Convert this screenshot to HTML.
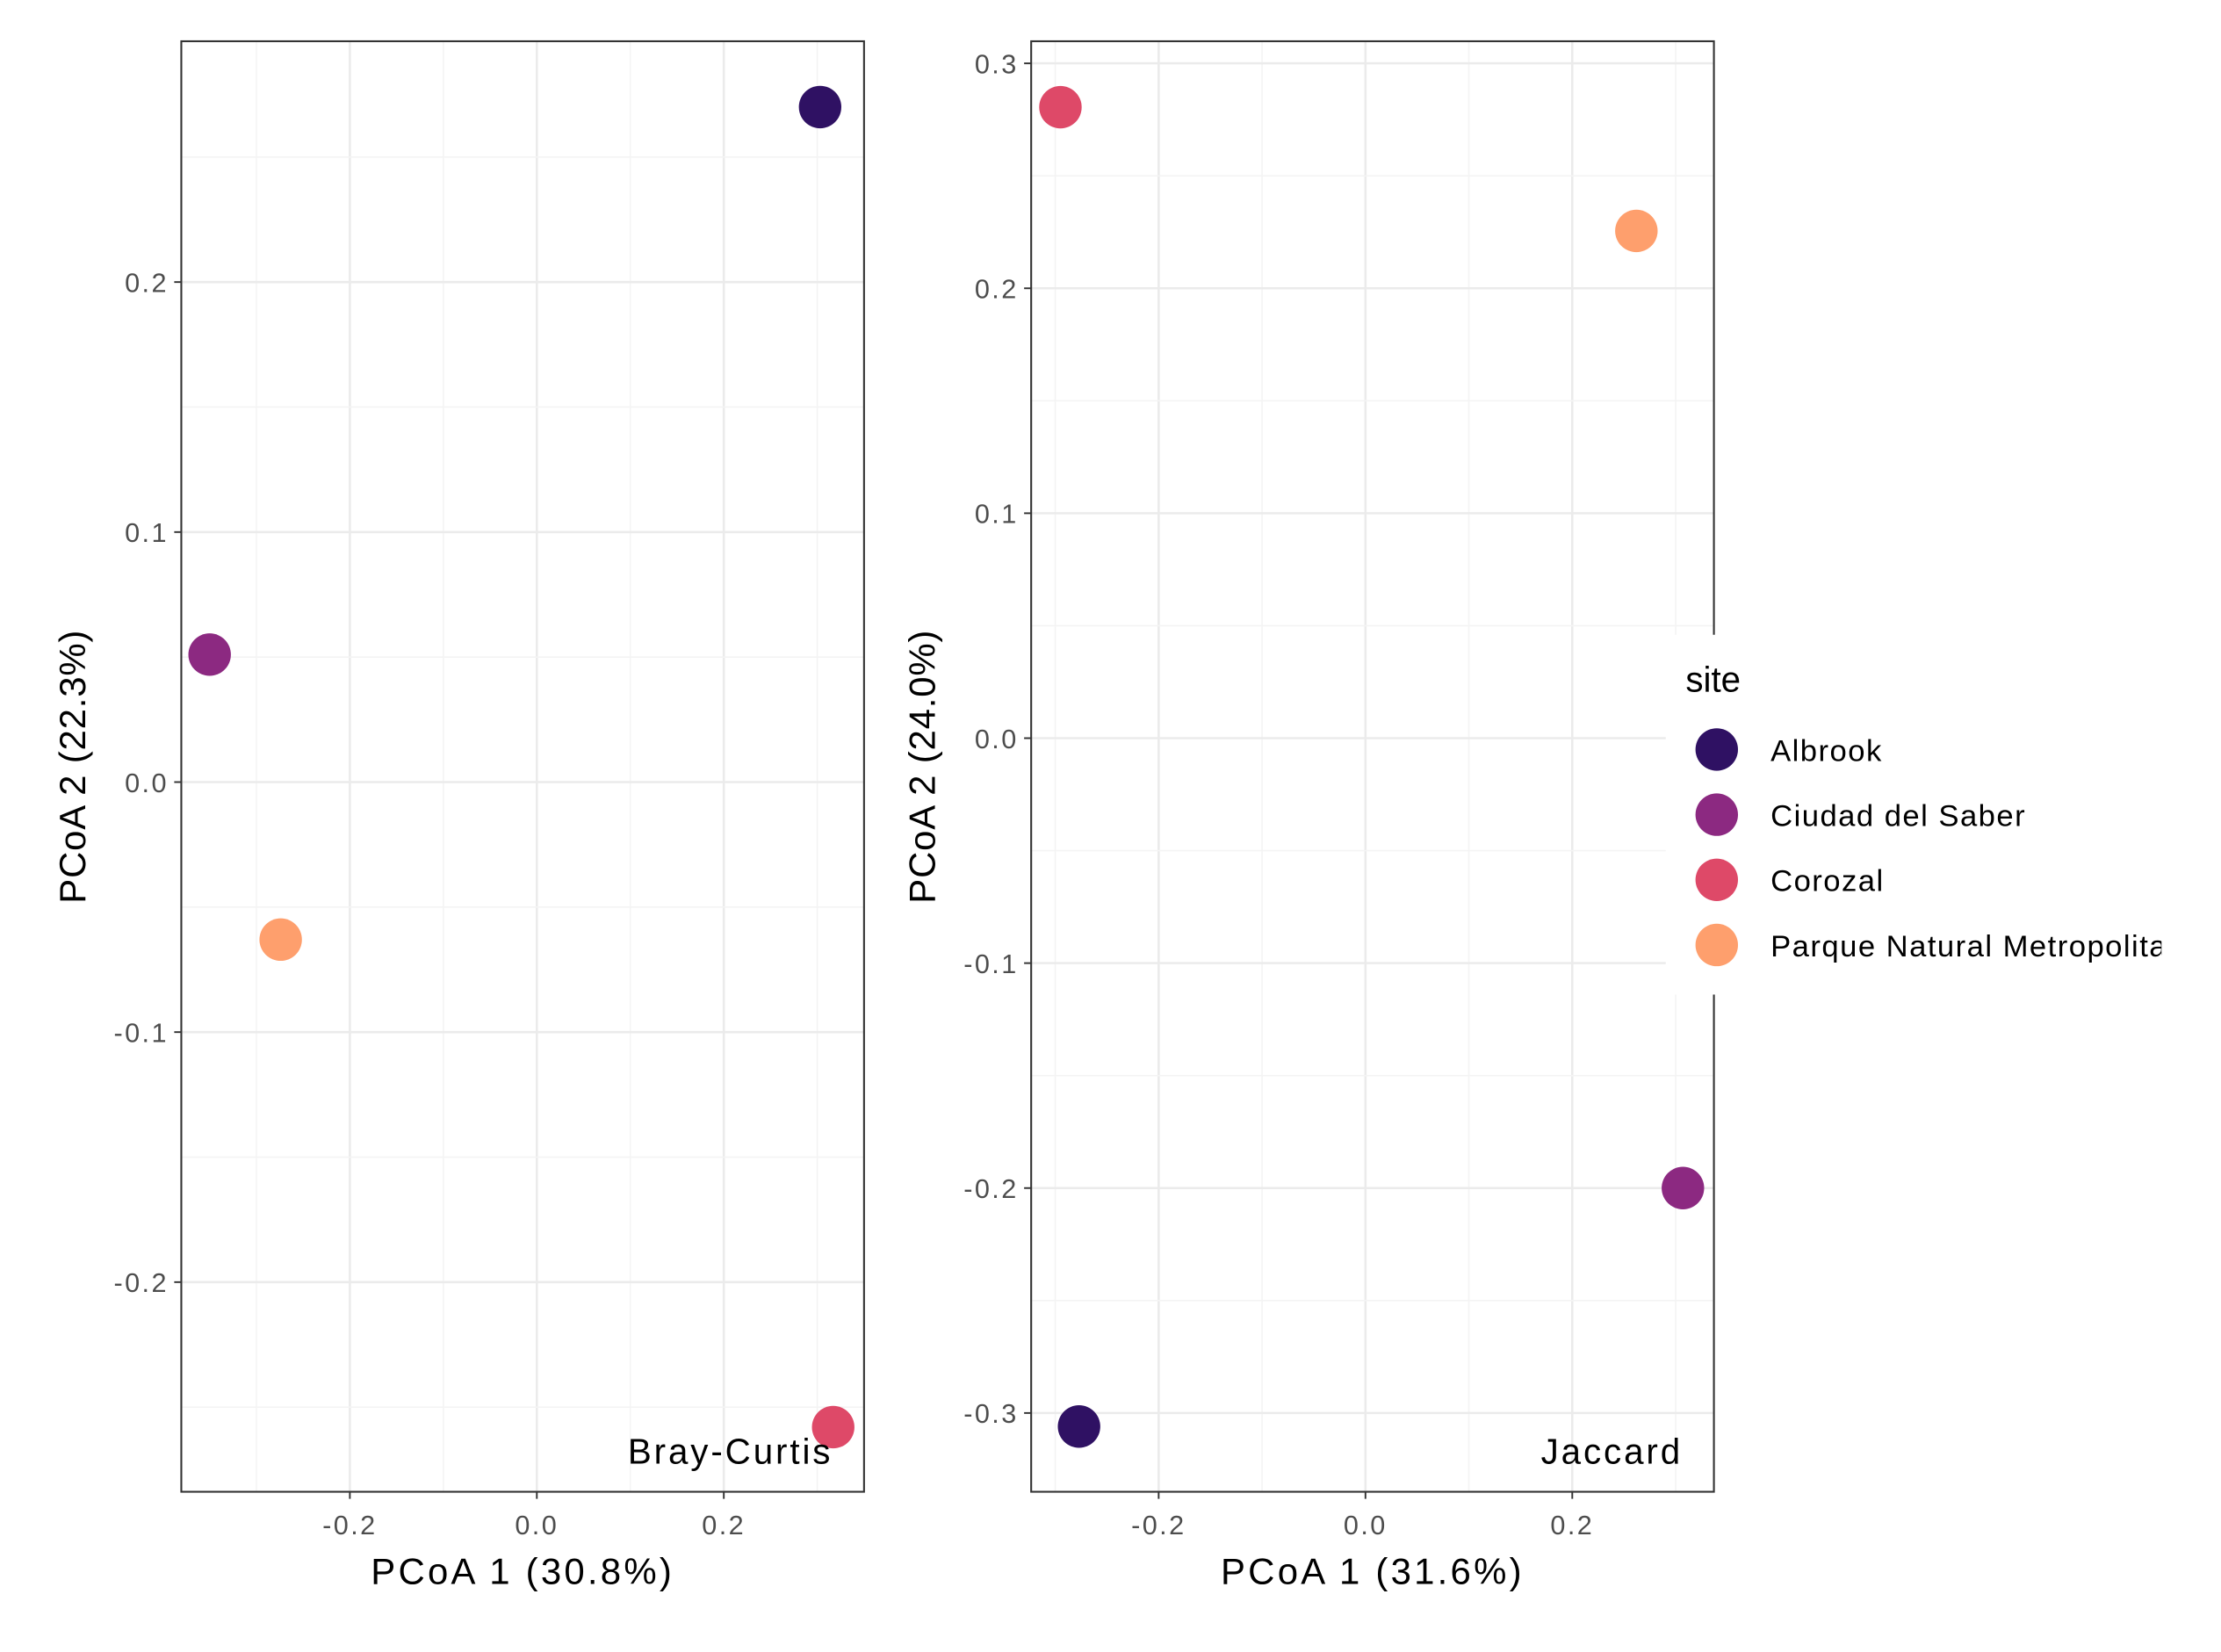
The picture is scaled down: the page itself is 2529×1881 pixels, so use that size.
<!DOCTYPE html>
<html><head><meta charset="utf-8"><style>
html,body{margin:0;padding:0;background:#fff;}
svg{display:block;font-family:"Liberation Sans",Arial,sans-serif;}
</style></head><body>
<svg id="chart" width="2529" height="1881" viewBox="0 0 1568 1166" xmlns="http://www.w3.org/2000/svg">
<defs><clipPath id="legclip"><rect x="1170" y="440" width="356" height="280"/></clipPath></defs>
</svg>
<script>
const sites = ["Albrook","Ciudad del Saber","Corozal","Parque Natural Metropolitano"];
const colors = ["#2f1163","#8c2981","#de4968","#fe9f6d"];
const bcX = [0.303,-0.350,0.317,-0.274];
const bcY = [0.270,0.051,-0.258,-0.063];
const jacX = [-0.277,0.307,-0.295,0.262];
const jacY = [-0.306,-0.200,0.2805,0.2255];
const bcXTicks = [-0.2,0.0,0.2];
const bcYTicks = [-0.2,-0.1,0.0,0.1,0.2];
const jacXTicks = [-0.2,0.0,0.2];
const jacYTicks = [-0.3,-0.2,-0.1,0.0,0.1,0.2,0.3];

const NS="http://www.w3.org/2000/svg";
const svg=document.getElementById('chart');
function mk(tag,attrs,parent){const e=document.createElementNS(NS,tag);for(const k in attrs)e.setAttribute(k,attrs[k]);(parent||svg).appendChild(e);return e;}

function panel(p){
  const g=mk('g',{});
  
  
  const sx=v=>p.x0+(v-p.xref0)*p.xs;
  const sy=v=>p.y0-(v-p.yref0)*p.ys;
  mk('rect',{x:p.L,y:p.T,width:p.R-p.L,height:p.B-p.T,fill:'#fff'},g);
  const xs=p.xTicks, ys=p.yTicks;
  const dx=xs[1]-xs[0], dy=ys[1]-ys[0];
  for(let v=xs[0]-dx*3;v<=xs[xs.length-1]+dx*3;v+=dx/2){const X=sx(v);const maj=xs.some(t=>Math.abs(t-v)<1e-9);if(X>p.L&&X<p.R)mk('line',{x1:X,x2:X,y1:p.T,y2:p.B,stroke:maj?'#ebebeb':'#f4f4f4','stroke-width':maj?1.6:1},g);}
  for(let v=ys[0]-dy*3;v<=ys[ys.length-1]+dy*3;v+=dy/2){const Y=sy(v);const maj=ys.some(t=>Math.abs(t-v)<1e-9);if(Y>p.T&&Y<p.B)mk('line',{x1:p.L,x2:p.R,y1:Y,y2:Y,stroke:maj?'#ebebeb':'#f4f4f4','stroke-width':maj?1.6:1},g);}
  mk('rect',{x:p.L,y:p.T,width:p.R-p.L,height:p.B-p.T,fill:'none',stroke:'#333','stroke-width':1.3},g);
  xs.forEach(v=>{const X=sx(v);mk('line',{x1:X,x2:X,y1:p.B,y2:p.B+5,stroke:'#333','stroke-width':1.2},g);
    const t=mk('text',{x:X,y:p.B+30,'text-anchor':'middle','font-size':19,'letter-spacing':1.5,fill:'#4d4d4d'},g);t.textContent=v.toFixed(1);
    });
  ys.forEach(v=>{const Y=sy(v);mk('line',{x1:p.L-5,x2:p.L,y1:Y,y2:Y,stroke:'#333','stroke-width':1.2},g);
    const t=mk('text',{x:p.L-9,y:Y+7,'text-anchor':'end','font-size':19,'letter-spacing':1.5,fill:'#4d4d4d'},g);t.textContent=v.toFixed(1);
    });
  p.px.forEach((v,i)=>{const c=mk('circle',{cx:sx(v),cy:sy(p.py[i]),r:15,fill:colors[i]},g);
    
    });
  const lab=mk('text',{x:p.labX,y:1033,'text-anchor':'end','font-size':25,'letter-spacing':1.8,fill:'#000'},g);lab.textContent=p.label;
  
  const xt=mk('text',{x:(p.L+p.R)/2,y:1118,'text-anchor':'middle','font-size':26,'letter-spacing':2,fill:'#000'},g);xt.textContent=p.xtitle;
  
  const yt=mk('text',{x:0,y:0,'text-anchor':'middle','font-size':26,'letter-spacing':0.5,fill:'#000',transform:`translate(${p.ytx},541) rotate(-90)`},g);yt.textContent=p.ytitle;
  
}
panel({name:'bray-curtis-panel',L:128,R:610,T:29,B:1053,x0:379,xref0:0,xs:660,y0:552,yref0:0,ys:1765,
  xTicks:bcXTicks,yTicks:bcYTicks,px:bcX,py:bcY,label:'Bray-Curtis',labX:588,xtitle:'PCoA 1 (30.8%)',ytitle:'PCoA 2 (22.3%)',ytx:60});
panel({name:'jaccard-panel',L:728,R:1210,T:29,B:1053,x0:964,xref0:0,xs:730,y0:521,yref0:0,ys:1588,
  xTicks:jacXTicks,yTicks:jacYTicks,px:jacX,py:jacY,label:'Jaccard',labX:1188,xtitle:'PCoA 1 (31.6%)',ytitle:'PCoA 2 (24.0%)',ytx:660});

const lg=mk('g',{'clip-path':'url(#legclip)'});


mk('rect',{x:1176,y:448,width:392,height:254,fill:'#fff'},lg);
const lt=mk('text',{x:1190,y:488,'font-size':25,fill:'#000'},lg);lt.textContent='site';

sites.forEach((s,i)=>{const Y=529+i*46;
  const c=mk('circle',{cx:1212,cy:Y,r:15,fill:colors[i]},lg);
  
  const t=mk('text',{x:1250,y:Y+8,'font-size':21.5,'letter-spacing':0.9,fill:'#000'},lg);t.textContent=s;
  });
</script>
</body></html>
